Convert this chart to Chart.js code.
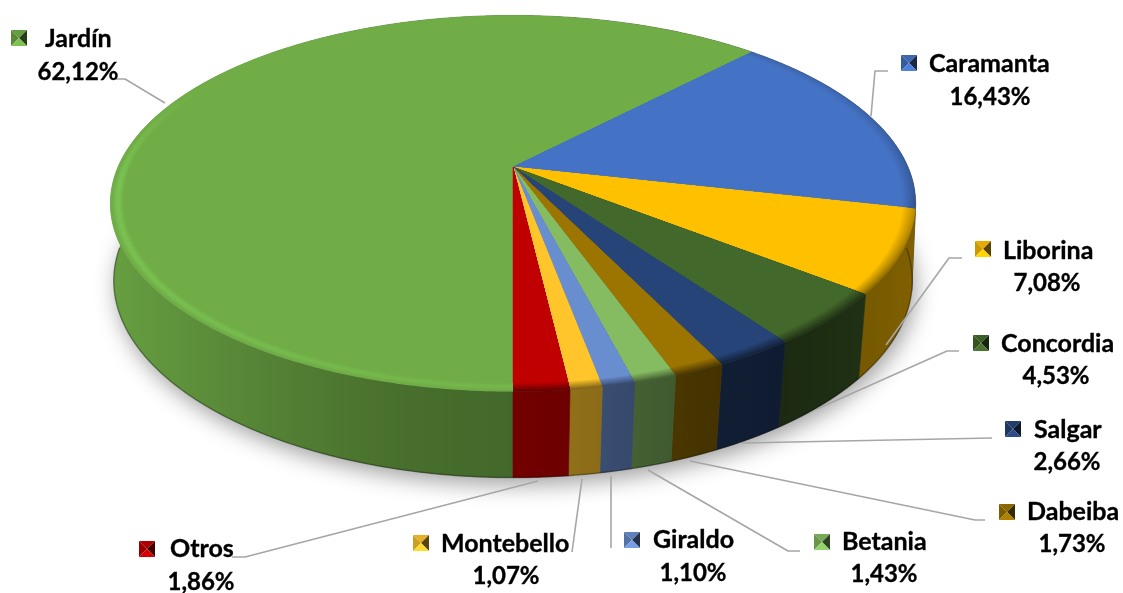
<!DOCTYPE html>
<html><head><meta charset="utf-8">
<style>html,body{margin:0;padding:0;background:#fff}canvas{display:block}</style>
<script src="https://cdn.jsdelivr.net/npm/chart.js@4"></script>
</head><body>
<canvas id="c" width="1123" height="593"></canvas>
<script>
const categories = ["Jardín","Caramanta","Liborina","Concordia","Salgar","Dabeiba","Betania","Giraldo","Montebello","Otros"];
const shares = [62.12,16.43,7.08,4.53,2.66,1.73,1.43,1.10,1.07,1.86];
const shareLabels = ["62,12%","16,43%","7,08%","4,53%","2,66%","1,73%","1,43%","1,10%","1,07%","1,86%"];
const colors = ["#70AD47","#4472C4","#FFC000","#43682B","#264478","#9C7400","#85BC62","#698ED0","#FFC52B","#C00000"];

// label layout: key x,y ; name x,baseline ; percentage centre x,baseline
const labelPos = [
 [11,30,45,47,78,80],[901,55,929,72,990,105],[975,241,1003,259,1047,291],[973,335,1001,352,1056,384],
 [1005,421,1034,438,1067,470],[999,504,1027,520,1072,552],[814,534,842,550,884,582],[624,532,653,548,693,581],
 [413,535,441,552,506,584],[139,541,170,557,201,590]];
const leaders = [
 [[116,79],[125,79],[165,103]],[[888,71],[875,71],[871,116]],[[962,258],[949,258],[886,345]],
 [[959,351],[947,351],[817,409]],[[992,438],[742,443]],[[985,520],[975,520],[690,461]],
 [[800,551],[788,551],[648,470]],[[611,548],[611,476]],[[572,552],[582,479]],[[232,557],[245,557],[538,481]]];

const view = {x0:513,y0:167,A:181,B:395,k:-0.194,depthBase:81,depthFront:5,shrink:0.025};
function project(a,r){const u=r*Math.cos(a),v=r*Math.sin(a),w=1+view.k*v;
  return [view.x0+view.B*u/w, view.y0+view.A*v/w, v];}
function lower(a){const p=project(a,1),s=1-view.shrink*Math.max(0,p[2])-0.004;
  return [view.x0+(p[0]-view.x0)*s, p[1]+view.depthBase+view.depthFront*p[2]];}
function rgb(h){return [1,3,5].map(i=>parseInt(h.substr(i,2),16));}
function css(c,f){return 'rgb('+c.map(v=>Math.min(255,Math.round(v*f))).join(',')+')';}
const sideLight=[[108,.92],[200,.82],[300,.72],[400,.64],[513,.6],[600,.55],[700,.45],[780,.4],[860,.46],[916,.5]];
function sideGrad(ctx,hex){const g=ctx.createLinearGradient(108,0,916,0),c=rgb(hex);
  sideLight.forEach(s=>g.addColorStop((s[0]-108)/808,css(c,s[1])));return g;}
function arcPts(a,b,fn){const n=Math.max(2,Math.ceil((b-a)/0.008)),o=[];
  for(let i=0;i<=n;i++)o.push(fn(a+(b-a)*i/n));return o;}
function trace(ctx,pts,move){pts.forEach((p,i)=>{(i===0&&move)?ctx.moveTo(p[0],p[1]):ctx.lineTo(p[0],p[1]);});}

const pie3d = {id:'pie3d',
 beforeDatasetDraw(chart,args){
  const ctx=chart.ctx, arcs=chart.getDatasetMeta(args.index).data;
  ctx.save();
  // soft ground shadow
  ctx.save();ctx.shadowColor='rgba(0,0,0,0.38)';ctx.shadowBlur=22;ctx.shadowOffsetY=7;ctx.shadowOffsetX=3;
  ctx.fillStyle='#777';ctx.beginPath();trace(ctx,arcPts(0,Math.PI*2,lower),true);ctx.closePath();ctx.fill();ctx.restore();
  // sides
  arcs.forEach((el,i)=>{
    const top=arcPts(el.startAngle,el.endAngle,a=>project(a,1)),bot=arcPts(el.startAngle,el.endAngle,lower).reverse();
    const g=sideGrad(ctx,colors[i]);
    ctx.beginPath();trace(ctx,top,true);trace(ctx,bot,false);ctx.closePath();
    ctx.fillStyle=g;ctx.fill();ctx.strokeStyle=g;ctx.lineWidth=.6;ctx.stroke();
  });
  ctx.strokeStyle='rgba(0,0,0,0.3)';ctx.lineWidth=1.5;ctx.beginPath();
  trace(ctx,arcPts(0,Math.PI,lower),true);ctx.stroke();
  // top face with bevelled rim
  const levels=[1,.9975,.995,.9925,.99,.987,.984,.981,.978,.975,.972,.969];
  const glow=[128,208,88];
  arcs.forEach((el,i)=>{
    const c=rgb(colors[i]);
    levels.forEach((r,j)=>{
      const t=1-j/(levels.length-1);
      let fill;
      if(i===0){
        const g=ctx.createLinearGradient(0,90,0,392), bump=Math.pow(Math.sin(Math.min(1,t*1.15)*Math.PI),1.5);
        const mix=a=>'rgb('+c.map((v,n)=>Math.round(v+(glow[n]-v)*a)).join(',')+')';
        g.addColorStop(0,mix(0));g.addColorStop(.3,mix(.6*bump));g.addColorStop(.7,mix(.5*bump));g.addColorStop(1,mix(.25*bump));
        fill=g;
      } else {
        const g=ctx.createLinearGradient(0,100,0,300);
        g.addColorStop(0,css(c,1-.12*t));g.addColorStop(.4,css(c,1-.2*t));g.addColorStop(1,css(c,1-.5*t));
        fill=g;
      }
      const pts=arcPts(el.startAngle,el.endAngle,a=>project(a,r));
      ctx.beginPath();ctx.moveTo(view.x0,view.y0);trace(ctx,pts,false);ctx.closePath();
      ctx.fillStyle=fill;ctx.fill();
      if(j===levels.length-1){ctx.strokeStyle=fill;ctx.lineWidth=.5;ctx.stroke();}
    });
  });
  ctx.restore();
  return false;
 },
 afterDraw(chart){
  const ctx=chart.ctx;ctx.save();
  ctx.strokeStyle='#A6A6A6';ctx.lineWidth=1.6;ctx.lineJoin='round';
  leaders.forEach(l=>{ctx.beginPath();l.forEach((p,i)=>i?ctx.lineTo(p[0],p[1]):ctx.moveTo(p[0],p[1]));ctx.stroke();});
  categories.forEach((name,i)=>{
    const p=labelPos[i],c=rgb(colors[i]),x=p[0],y=p[1],s=16,cx=x+s/2,cy=y+s/2;
    const tri=(a,b,d,f)=>{ctx.beginPath();ctx.moveTo(a[0],a[1]);ctx.lineTo(b[0],b[1]);ctx.lineTo(d[0],d[1]);ctx.closePath();ctx.fillStyle=f;ctx.fill();};
    tri([x,y],[x+s,y],[cx,cy],css(c,.9));
    tri([x,y],[x,y+s],[cx,cy],css(c,.8));
    tri([x+s,y],[x+s,y+s],[cx,cy],css(c,.35));
    tri([x,y+s],[x+s,y+s],[cx,cy],css(c,1.12));
    ctx.fillStyle='#000';ctx.strokeStyle='#000';ctx.lineWidth=.35;ctx.textBaseline='alphabetic';
    ctx.font='bold 25px Lato, Carlito, sans-serif';
    ctx.textAlign='left';ctx.fillText(name,p[2],p[3]);ctx.strokeText(name,p[2],p[3]);
    ctx.font='bold 24px Lato, Carlito, sans-serif';
    ctx.textAlign='center';ctx.fillText(shareLabels[i],p[4],p[5]);ctx.strokeText(shareLabels[i],p[4],p[5]);
  });
  ctx.restore();
 }
};

new Chart(document.getElementById('c'),{
 type:'pie',
 data:{labels:categories,datasets:[{data:shares,backgroundColor:colors,borderWidth:0}]},
 options:{responsive:false,animation:false,rotation:180,
  plugins:{legend:{display:false},tooltip:{enabled:false}}},
 plugins:[pie3d]
});
</script>
</body></html>
